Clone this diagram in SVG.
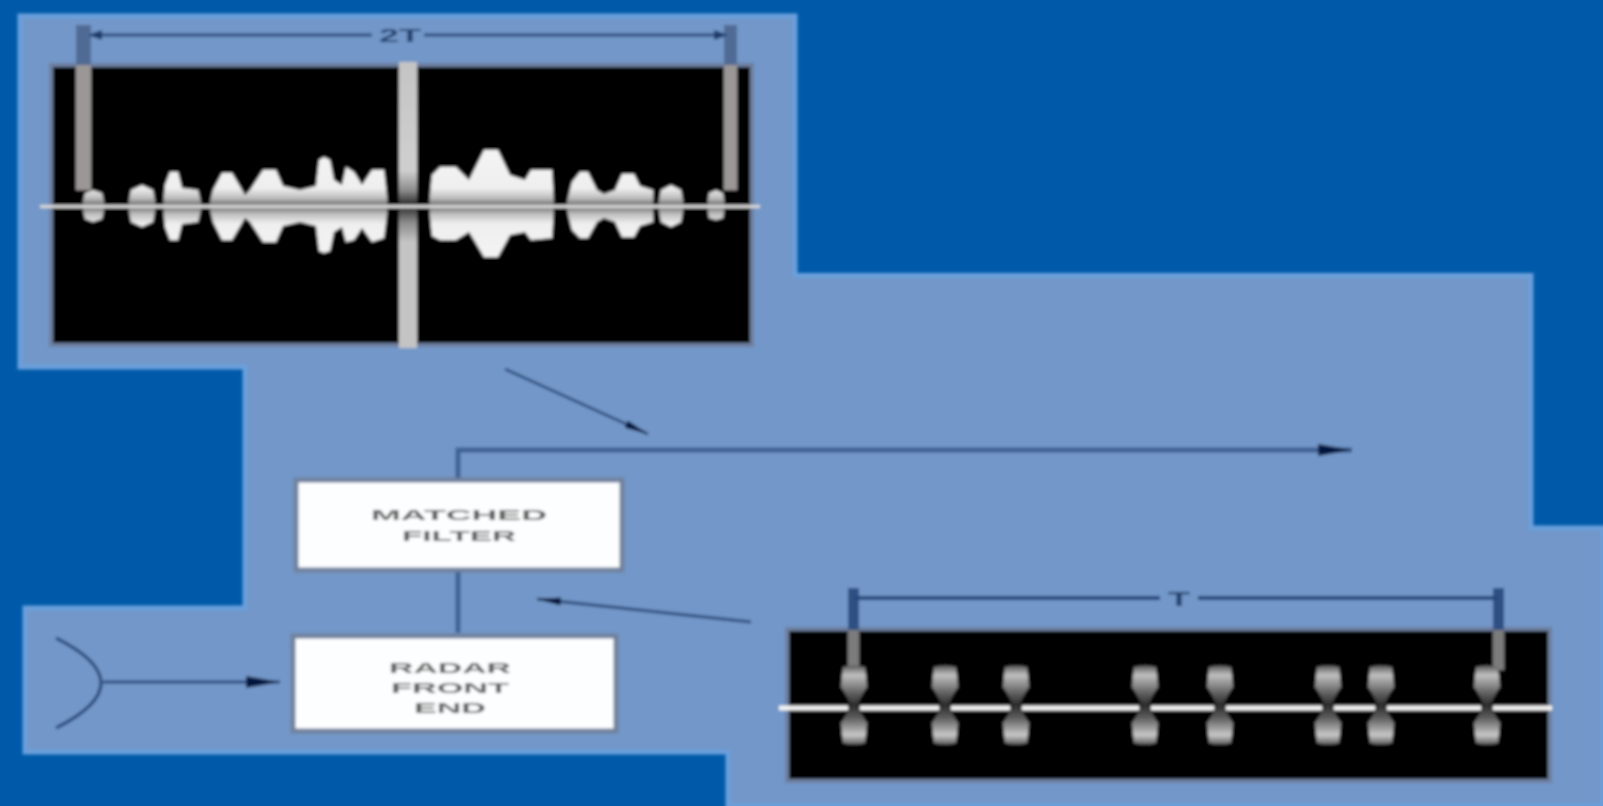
<svg xmlns="http://www.w3.org/2000/svg" width="1603" height="806" viewBox="0 0 1603 806">
<defs>
<filter id="soft" x="-2%" y="-2%" width="104%" height="104%"><feGaussianBlur stdDeviation="1.5"/></filter>
<linearGradient id="lobe" gradientUnits="userSpaceOnUse" x1="0" y1="150" x2="0" y2="262"><stop offset="0" stop-color="#f4f4f4"/><stop offset=".34" stop-color="#efefef"/><stop offset=".43" stop-color="#bdbdbd"/><stop offset=".5" stop-color="#626262"/><stop offset=".57" stop-color="#bdbdbd"/><stop offset=".66" stop-color="#efefef"/><stop offset="1" stop-color="#f4f4f4"/></linearGradient>
<linearGradient id="pulse" x1="0" y1="0" x2="0" y2="1"><stop offset="0" stop-color="#555"/><stop offset=".12" stop-color="#c0c0c0"/><stop offset=".36" stop-color="#5c5c5c"/><stop offset=".5" stop-color="#2a2a2a"/><stop offset=".66" stop-color="#5c5c5c"/><stop offset=".88" stop-color="#c8c8c8"/><stop offset="1" stop-color="#5a5a5a"/></linearGradient>
<linearGradient id="centre" x1="0" y1="0" x2="0" y2="1"><stop offset="0" stop-color="#c4c4c4"/><stop offset=".38" stop-color="#cfcfcf"/><stop offset=".45" stop-color="#8a8a8a"/><stop offset=".5" stop-color="#262626"/><stop offset=".56" stop-color="#8a8a8a"/><stop offset=".63" stop-color="#c4c4c4"/><stop offset="1" stop-color="#c4c4c4"/></linearGradient>
<marker id="head" markerWidth="36" markerHeight="16" refX="34" refY="8" orient="auto" markerUnits="userSpaceOnUse"><path d="M0 2L34 8L0 14Z" fill="#06143f"/></marker>
<marker id="small" markerWidth="26" markerHeight="12" refX="24" refY="6" orient="auto" markerUnits="userSpaceOnUse"><path d="M0 2L24 6L0 10Z" fill="#06143f"/></marker>
<path id="p" d="M-11-38Q0-41 11-38L13-18Q6-8 4 0Q6 8 13 18L11 38Q0 41-11 38L-13 18Q-6 8-4 0Q-6-8-13-18Z" fill="url(#pulse)"/>
</defs>
<style>
.label{font-family:"Liberation Sans",Arial,sans-serif;font-size:14px;fill:#5c5c5c;text-anchor:middle;font-weight:bold}
.dim{font-family:"Liberation Sans",Arial,sans-serif;fill:#24406e;text-anchor:middle;font-weight:bold}
.wire{fill:none;stroke:#3f6193;stroke-width:5}
.thin{fill:none;stroke:#2c4c7e;stroke-width:3}
.box{fill:#fdfeff;stroke:#71829f;stroke-width:5}
.black{fill:#000;stroke:#6d7f9f;stroke-width:4}
</style>
<rect width="1603" height="806" fill="#005aa9"/>
<g filter="url(#soft)">
<path id="panel" d="M20 16H795V275.500H1531V528H1603V806H728V752H25V608H245V367H20Z" fill="#7297c8" stroke="#6a9fdb" stroke-width="5"/>

<g id="top-scope">
<rect class="black" x="51" y="65" width="701" height="280"/>
<rect x="399" y="62" width="18" height="286" fill="url(#centre)"/>
<rect x="76" y="25" width="15" height="40" fill="#4f6b95"/>
<rect x="76" y="65" width="15" height="125" fill="#9b9797"/>
<rect x="724" y="25" width="13" height="40" fill="#4f6b95"/>
<rect x="724" y="65" width="13" height="125" fill="#9b9797"/>
<path fill="url(#lobe)" d="M82 206L85 193L93 190L102 193L105 206L102 219L93 222L85 219Z
M128 206L131 190L142 185L153 190L156 206L153 222L142 227L131 222Z
M163 206L165 185L170 172L178 172L182 188L198 190L202 206L198 222L182 224L178 240L170 240L165 227Z
M209 206L213 190L222 173L232 173L245 195L250 190L263 170L276 170L283 186L300 190L316 186L319 160L324 157L330 160L334 180L342 185L346 167L354 172L362 185L372 170L384 170L388 206L384 238L372 242L362 228L354 240L346 242L342 227L334 232L330 251L324 253L319 251L316 226L300 222L283 226L276 242L263 242L250 222L245 218L232 240L222 240L213 222Z
M429 206L432 175L440 167L456 167L469 180L474 170L484 150L498 150L510 175L525 180L531 170L552 170L554 206L552 238L531 240L525 232L510 235L498 257L484 257L474 240L469 232L456 240L440 240L432 236Z
M566 206L572 182L580 172L588 172L597 190L604 194L615 190L622 174L634 174L640 186L653 190L653 222L640 226L634 237L622 237L615 222L604 218L597 222L588 238L580 238L572 230Z
M658 206L661 190L671 185L681 190L684 206L681 222L671 227L661 222Z
M707 206L709 193L716 190L723 193L725 206L723 218L716 220L709 218Z"/>
<rect x="40" y="205" width="720" height="3" fill="#d8d8d8"/>
<path class="thin" d="M95 35H372M424 35H722" stroke-width="3"/>
<path d="M88 35l14-5v10zM728 35l-14-5v10z" fill="#1f3a6a"/>
<text class="dim" x="400" y="42" font-size="19" textLength="42" lengthAdjust="spacingAndGlyphs">2T</text>
</g>

<g id="bottom-scope">
<rect class="black" x="787" y="629" width="763" height="152"/>
<rect x="848" y="588" width="11" height="42" fill="#2f5083"/>
<rect x="848" y="630" width="11" height="40" fill="#7b7b7b"/>
<rect x="1493" y="588" width="11" height="42" fill="#2f5083"/>
<rect x="1493" y="630" width="11" height="40" fill="#7b7b7b"/>
<path d="M779 708H848M860 708H939M951 708H1010M1022 708H1139M1151 708H1214M1226 708H1322M1334 708H1375M1387 708H1481M1493 708H1552" fill="none" stroke="#f4f4f4" stroke-width="5"/>
<use href="#p" x="854" y="705"/>
<use href="#p" x="945" y="705"/>
<use href="#p" x="1016" y="705"/>
<use href="#p" x="1145" y="705"/>
<use href="#p" x="1220" y="705"/>
<use href="#p" x="1328" y="705"/>
<use href="#p" x="1381" y="705"/>
<use href="#p" x="1487" y="705"/>
<path d="M855 598H1160M1198 598H1497" fill="none" stroke="#23457a" stroke-width="4"/>
<text class="dim" x="1179" y="606" font-size="20" textLength="22" lengthAdjust="spacingAndGlyphs">T</text>
</g>

<g id="matched-filter">
<rect class="box" x="296" y="480" width="326" height="90"/>
<text class="label" x="459" y="520" textLength="176" lengthAdjust="spacingAndGlyphs">MATCHED</text>
<text class="label" x="459" y="541" textLength="114" lengthAdjust="spacingAndGlyphs">FILTER</text>
</g>

<g id="radar-front-end">
<rect class="box" x="293" y="636" width="323" height="95"/>
<text class="label" x="450" y="673" textLength="122" lengthAdjust="spacingAndGlyphs">RADAR</text>
<text class="label" x="450" y="693" textLength="118" lengthAdjust="spacingAndGlyphs">FRONT</text>
<text class="label" x="450" y="713" textLength="72" lengthAdjust="spacingAndGlyphs">END</text>
</g>

<g id="antenna">
<path d="M56 638Q146 683 56 728" fill="none" stroke="#2c4c7e" stroke-width="3.500"/>
</g>

<g id="connectors">
<path class="wire" d="M458 478V450H1352" marker-end="url(#head)"/>
<path class="wire" d="M458 572V633"/>
<path class="thin" d="M103 682H280" marker-end="url(#head)"/>
<path class="thin" d="M505 369L648 434" marker-end="url(#small)"/>
<path class="thin" d="M751 622L537 599" marker-end="url(#small)"/>
</g>
</g>
</svg>
